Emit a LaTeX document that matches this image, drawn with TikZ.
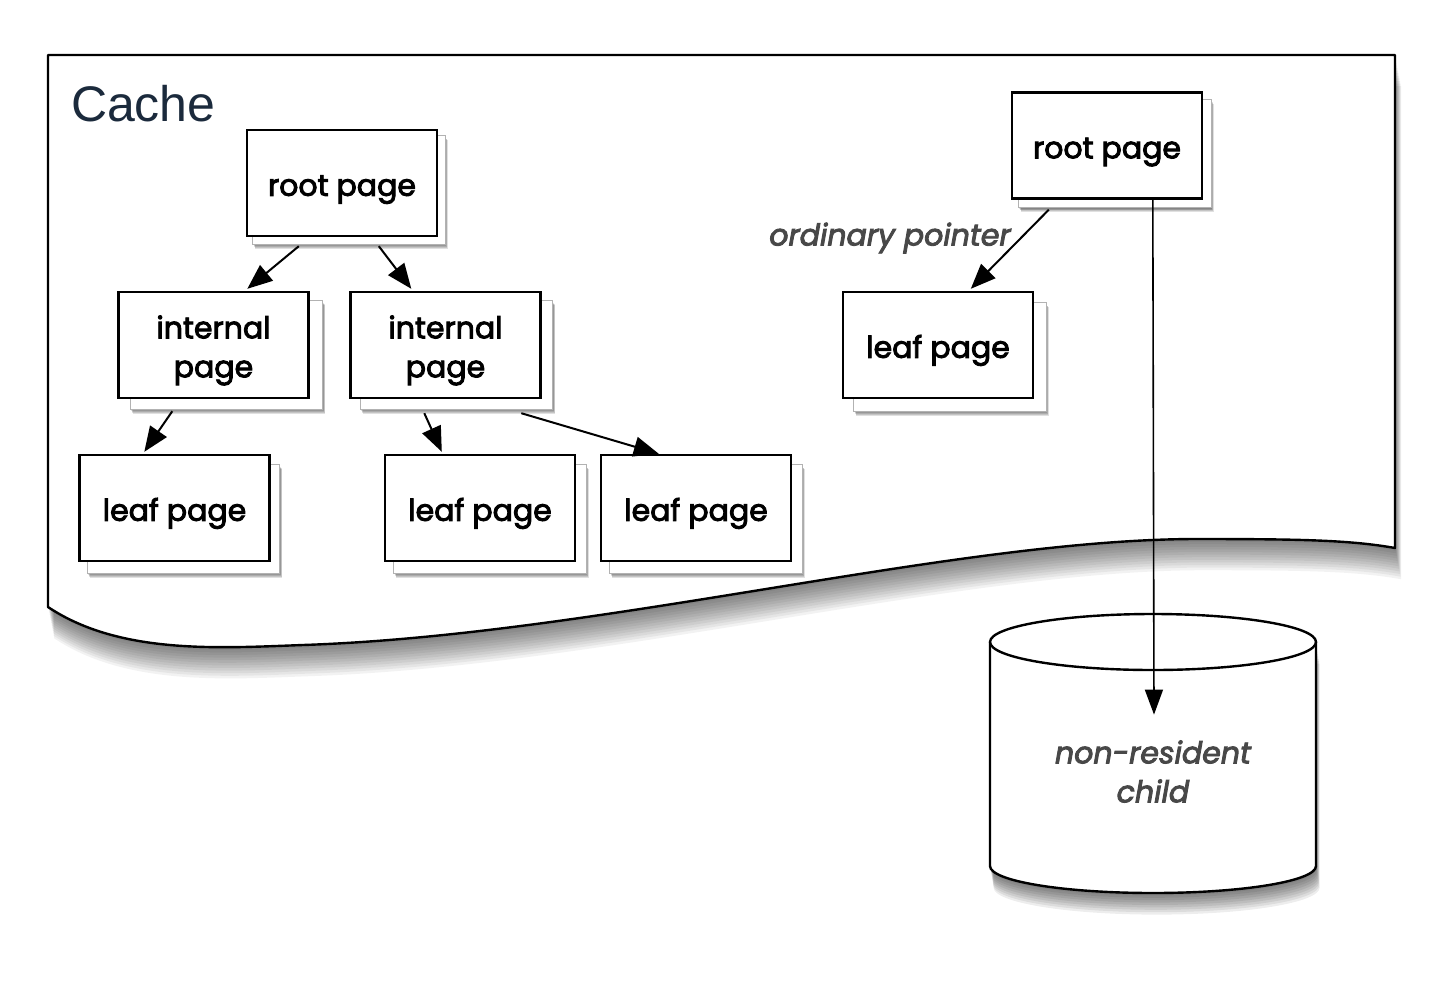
\documentclass[tikz,border=0pt]{standalone}
\usepackage{fontspec}
\setmainfont{Poppins}
\newfontfamily\pagefont[FakeBold=3]{Poppins}
\newfontfamily\cachefont{Liberation Sans}
\usetikzlibrary{arrows.meta,calc}
\pgfdeclarelayer{docl}
\pgfdeclarelayer{backl}
\pgfsetlayers{docl,backl,main}
\definecolor{cachecol}{HTML}{1B2A3C}
\definecolor{labgray}{HTML}{484848}
\newcommand{\lbl}[1]{\raisebox{-2.5pt}[\height][\depth]{\begin{tabular}{@{}c@{}}#1\end{tabular}}}
\tikzset{
  pagebox/.style={draw=black, line width=1.2pt, fill=white, minimum width=95pt,
    minimum height=53pt, inner sep=0pt, align=center,
    font=\pagefont\fontsize{15}{19.5}\selectfont},
  arr/.style={line width=1pt, -{Triangle[length=12.5pt,width=10pt]}},
  thinarr/.style={line width=0.8pt, -{Triangle[length=12.5pt,width=9pt]}},
  backpg/.style={draw=gray!60, line width=0.6pt, fill=white},
}
\newcommand{\backpage}[3]{%
  \begin{pgfonlayer}{backl}
    \foreach \k in {1,...,5}{
      \fill[black,opacity=0.12]
        ($(#1.north west)+(#2+0.5*\k,#3+0.9*\k)$) rectangle
        ($(#1.south east)+(#2+0.5*\k,#3+0.9*\k)$);
    }
    \draw[backpg] ($(#1.north west)+(#2,#3)$) rectangle ($(#1.south east)+(#2,#3)$);
  \end{pgfonlayer}}
\begin{document}
\begin{tikzpicture}[x=0.5pt,y=-0.5pt]
\useasboundingbox (0,0) rectangle (1440,996);

% cache document shape
\def\docpath{(48,55) -- (1395,55) -- (1395,548)
  .. controls (1350,540) and (1300,539) .. (1194,539)
  .. controls (950,540) and (600,635) .. (303,645)
  .. controls (220,648) and (120,655) .. (48,607) -- cycle}
\begin{pgfonlayer}{docl}
  \fill[white] (0,0) rectangle (1440,996);
  \foreach \k in {1,...,12}{
    \fill[black,opacity=0.05,xshift=0.25pt*\k,yshift=-1.3pt*\k] \docpath;
  }
  \fill[white] \docpath;
  \draw[line width=1.2pt,line join=round] \docpath;
\end{pgfonlayer}

\node[font=\cachefont\fontsize{25}{28}\selectfont, text=cachecol, anchor=west]
  (cache) at (64,104) {Cache};

% left tree
\node[pagebox] (r1) at (342,183) {\lbl{root page}};
\node[pagebox] (i1) at (213.5,345) {\lbl{internal\\page}};
\node[pagebox] (i2) at (445.5,345) {\lbl{internal\\page}};
\node[pagebox] (l1) at (174.5,508) {\lbl{leaf page}};
\node[pagebox] (l2) at (480,508) {\lbl{leaf page}};
\node[pagebox] (l3) at (696,508) {\lbl{leaf page}};
% right tree
\node[pagebox] (rR) at (1107,145.5) {\lbl{root page}};
\node[pagebox] (lR) at (938,345) {\lbl{leaf page}};

\backpage{r1}{7}{7}
\backpage{i1}{13}{10}
\backpage{i2}{11}{10}
\backpage{l1}{9}{11}
\backpage{l2}{10}{11}
\backpage{l3}{10}{11}
\backpage{rR}{8}{8}
\backpage{lR}{12}{12}

% cylinder (disk)
\foreach \k in {1,...,9}{
  \fill[black,opacity=0.07,xshift=0.2pt*\k,yshift=-1.2pt*\k]
    (990,642) -- (990,866)
    .. controls (990,881) and (1063,893) .. (1153,893)
    .. controls (1243,893) and (1316,881) .. (1316,866) -- (1316,642) -- cycle;
}
\fill[white] (990,642) -- (990,866)
    .. controls (990,881) and (1063,893) .. (1153,893)
    .. controls (1243,893) and (1316,881) .. (1316,866) -- (1316,642) -- cycle;
\fill[white] (1153,642) ellipse [x radius=81.5pt, y radius=14pt];
\draw[line width=1.2pt] (990,642) -- (990,866)
    .. controls (990,881) and (1063,893) .. (1153,893)
    .. controls (1243,893) and (1316,881) .. (1316,866) -- (1316,642);
\draw[line width=1.2pt] (1153,642) ellipse [x radius=81.5pt, y radius=14pt];
\node[font=\pagefont\itshape\fontsize{15}{19.5}\selectfont, text=labgray, align=center,
  minimum width=163pt, minimum height=156pt, inner sep=0pt]
  (cyl) at (1153,770) {\lbl{non-resident\\child}};

% label
\node[font=\pagefont\itshape\fontsize{15}{17}\selectfont, text=labgray] (op) at (890,238)
  {ordinary pointer};

% connectors
\draw[arr] ($(r1.south west)+(53,9)$) -- ($(i1.north west)+(130,-2)$);
\draw[arr] ($(r1.south west)+(133,9)$) -- ($(i2.north west)+(62,-2)$);
\draw[arr] ($(i1.south west)+(55,12)$) -- ($(l1.north west)+(66,-2)$);
\draw[arr] ($(i2.south west)+(75,14)$) -- ($(l2.north west)+(58,-2)$);
\draw[arr] ($(i2.south west)+(172,14)$) -- ($(l3.north west)+(59,0)$);
\draw[arr] ($(rR.south west)+(38,10)$) -- ($(lR.north west)+(129,-2)$);
\draw[thinarr] ($(rR.south west)+(142,0)$) -- ($(cyl.north)+(1,101)$);
\end{tikzpicture}
\end{document}
